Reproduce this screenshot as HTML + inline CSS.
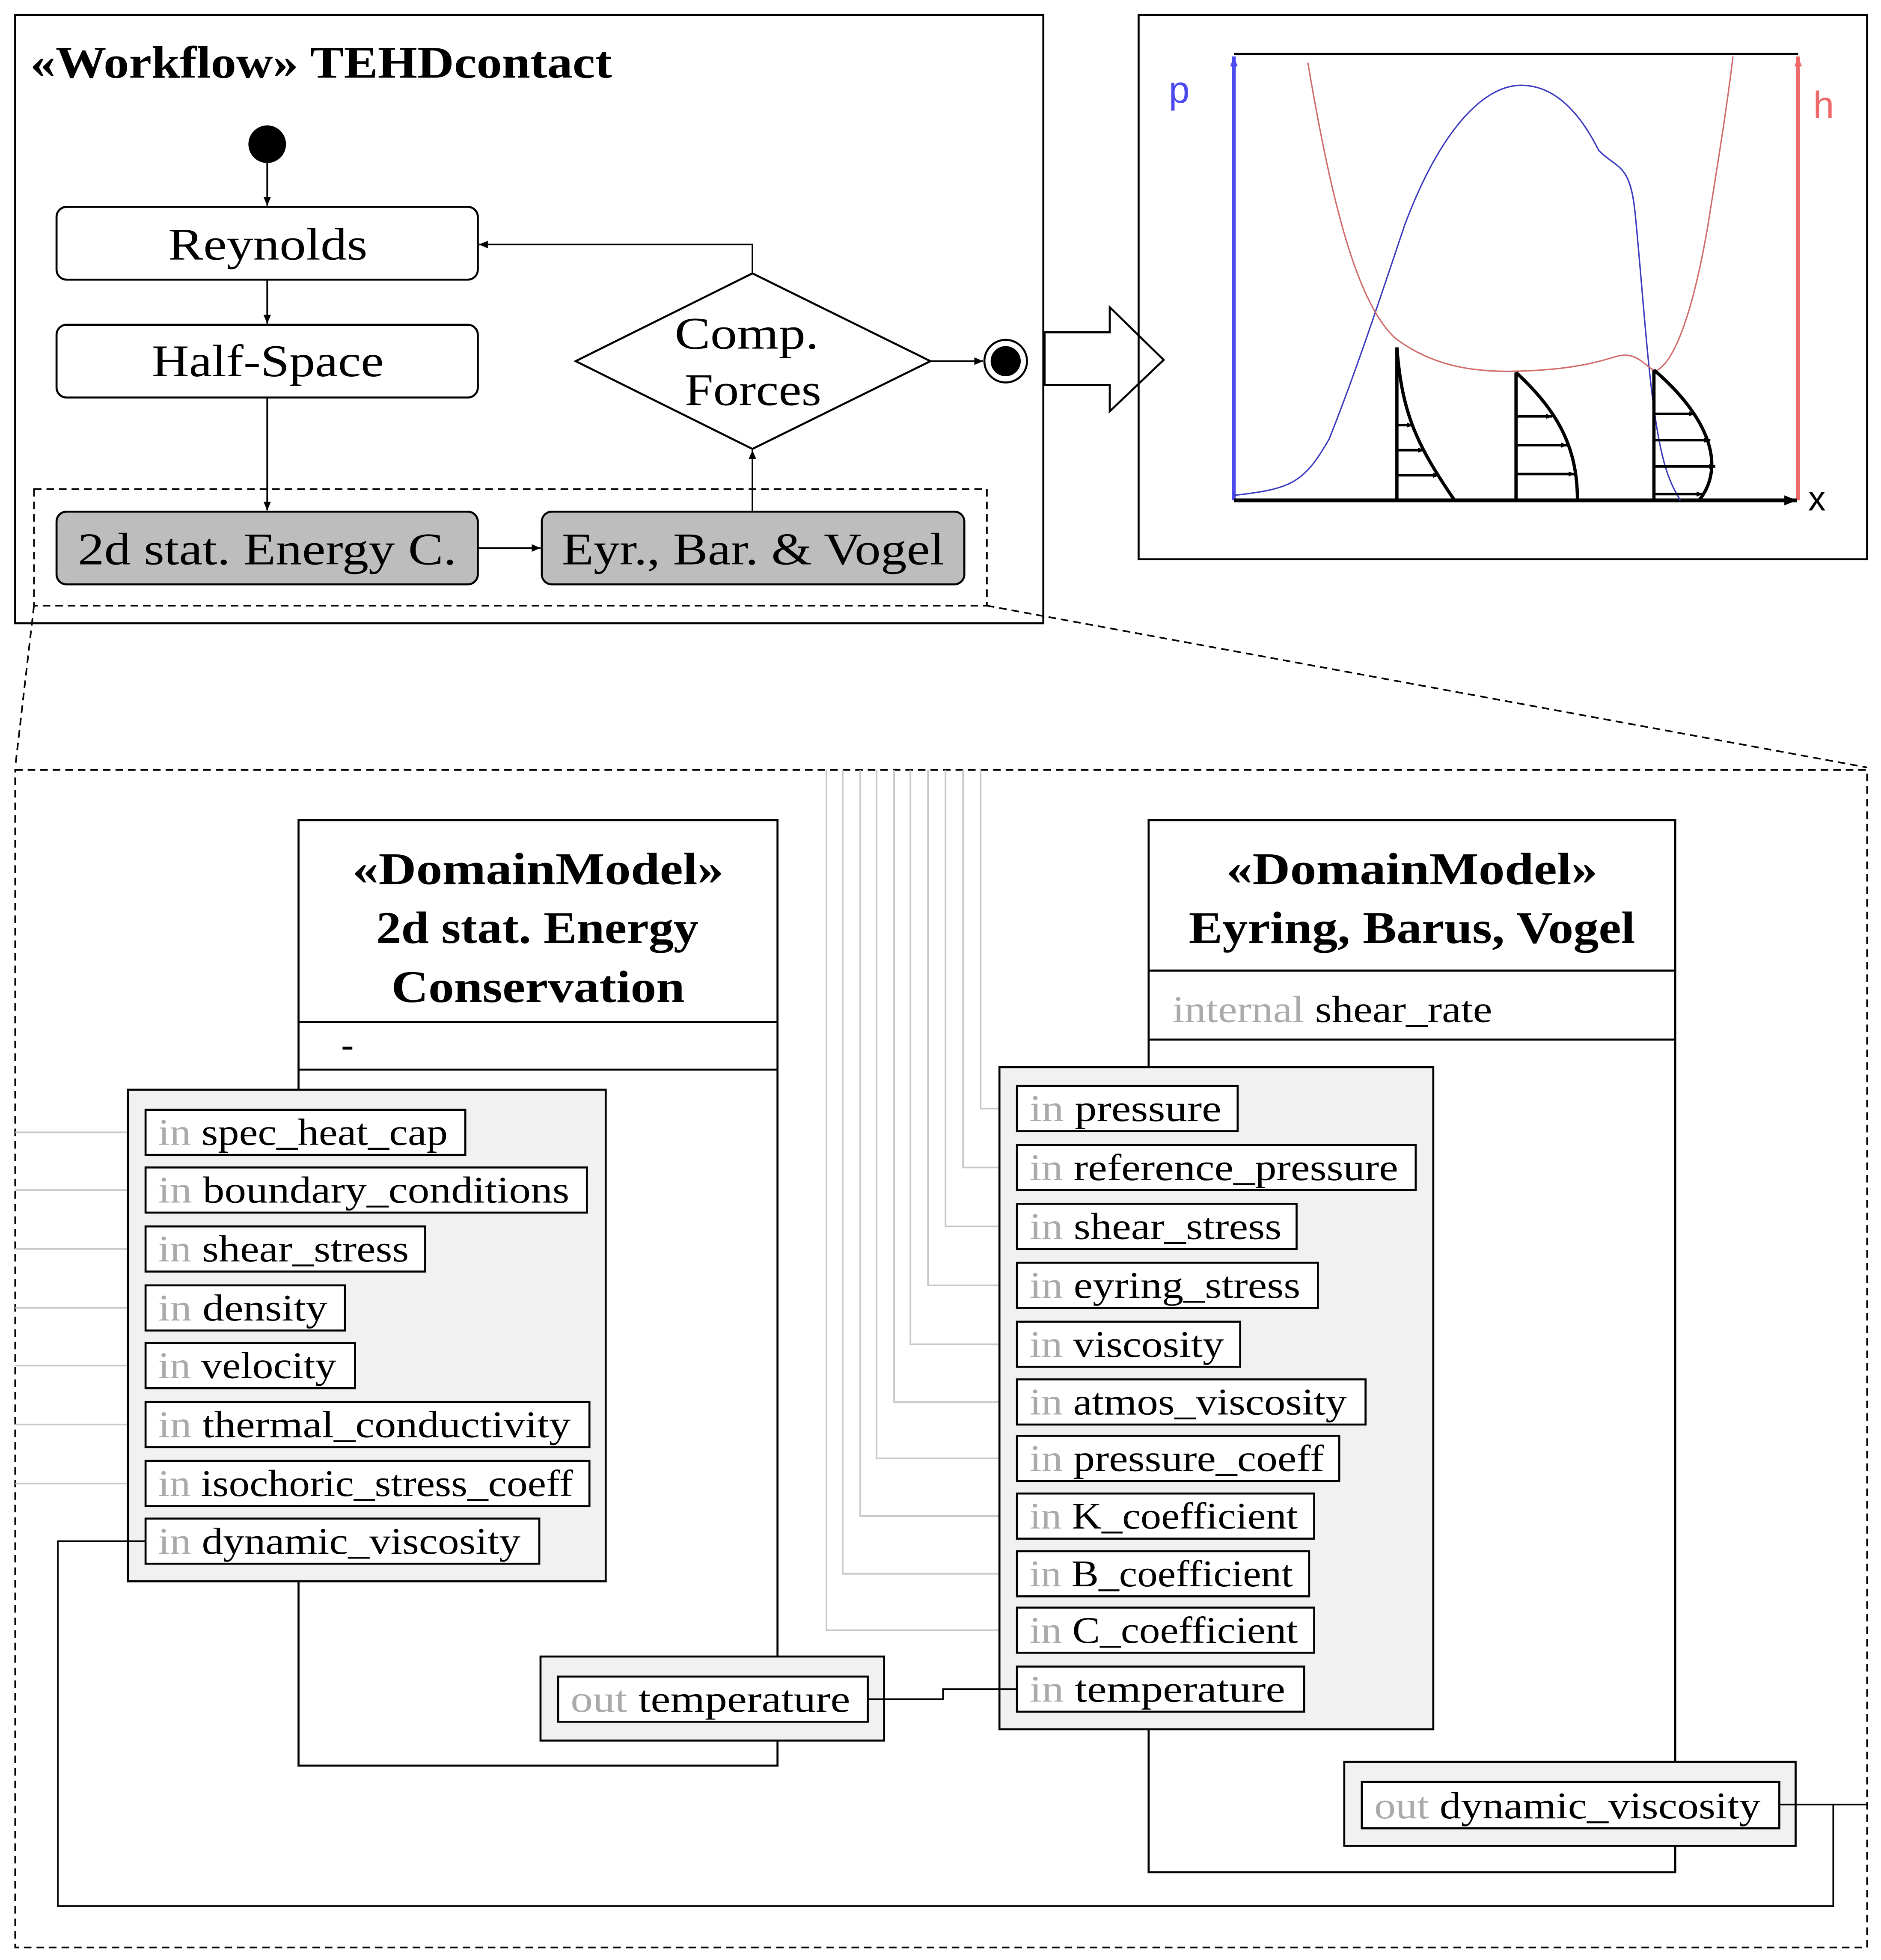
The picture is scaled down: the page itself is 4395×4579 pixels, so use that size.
<!DOCTYPE html>
<html><head><meta charset="utf-8"><style>
html,body{margin:0;padding:0;background:#fff}
svg{display:block}
.s{font-family:"Liberation Serif",serif}
.sans{font-family:"Liberation Sans",sans-serif}
</style></head><body>
<svg width="4395" height="4579" viewBox="0 0 1500 1563" xmlns="http://www.w3.org/2000/svg">
<defs>
<marker id="a" markerWidth="8" markerHeight="8" refX="7" refY="4" orient="auto" markerUnits="userSpaceOnUse"><path d="M0,1 L7,4 L0,7 z" fill="#000"/></marker>
<marker id="ab" markerWidth="10" markerHeight="10" refX="8" refY="5" orient="auto" markerUnits="userSpaceOnUse"><path d="M0,2 L8,5 L0,8 z" fill="#4a4aee"/></marker>
<marker id="ar" markerWidth="10" markerHeight="10" refX="8" refY="5" orient="auto" markerUnits="userSpaceOnUse"><path d="M0,2 L8,5 L0,8 z" fill="#ee6a6a"/></marker>
<marker id="ak" markerWidth="12" markerHeight="10" refX="10" refY="5" orient="auto" markerUnits="userSpaceOnUse"><path d="M0,1 L10,5 L0,9 z" fill="#000"/></marker>
<marker id="sm" markerWidth="6" markerHeight="6" refX="5" refY="3" orient="auto" markerUnits="userSpaceOnUse"><path d="M0,1 L5,3 L0,5 z" fill="#000"/></marker>
</defs>
<rect width="1500" height="1563" fill="#fff"/>
<rect x="12" y="12" width="820" height="485" fill="none" stroke="#000" stroke-width="1.6"/>
<text x="24" y="62" class="s" font-size="36" font-weight="bold" textLength="464" lengthAdjust="spacingAndGlyphs">«Workflow» TEHDcontact</text>
<circle cx="213" cy="115" r="15" fill="#000"/>
<g fill="none" stroke="#000" stroke-width="1.3">
<line x1="213" y1="130" x2="213" y2="164" marker-end="url(#a)"/>
<line x1="213" y1="223" x2="213" y2="258" marker-end="url(#a)"/>
<line x1="213" y1="317" x2="213" y2="407" marker-end="url(#a)"/>
<line x1="381" y1="437" x2="431" y2="437" marker-end="url(#a)"/>
<line x1="600" y1="408" x2="600" y2="359" marker-end="url(#a)"/>
<polyline points="600,218 600,195 382,195" marker-end="url(#a)"/>
<line x1="742" y1="288" x2="784" y2="288" marker-end="url(#a)"/>
</g>
<rect x="45" y="165" width="336" height="58" rx="8" fill="#fff" stroke="#000" stroke-width="1.6"/>
<text x="134" y="207" class="s" font-size="36" textLength="159" lengthAdjust="spacingAndGlyphs">Reynolds</text>
<rect x="45" y="259" width="336" height="58" rx="8" fill="#fff" stroke="#000" stroke-width="1.6"/>
<text x="121" y="300" class="s" font-size="36" textLength="185" lengthAdjust="spacingAndGlyphs">Half-Space</text>
<rect x="27" y="390" width="760" height="93" fill="none" stroke="#000" stroke-width="1.3" stroke-dasharray="6,4"/>
<rect x="45" y="408" width="336" height="58" rx="8" fill="#bdbdbd" stroke="#000" stroke-width="1.6"/>
<text x="62" y="450" class="s" font-size="36" textLength="302" lengthAdjust="spacingAndGlyphs">2d stat. Energy C.</text>
<rect x="432" y="408" width="337" height="58" rx="8" fill="#bdbdbd" stroke="#000" stroke-width="1.6"/>
<text x="448" y="450" class="s" font-size="36" textLength="305" lengthAdjust="spacingAndGlyphs">Eyr., Bar. &amp; Vogel</text>
<polygon points="600,218 742,288 600,358 459,288" fill="#fff" stroke="#000" stroke-width="1.6"/>
<text x="538" y="278" class="s" font-size="36" textLength="115" lengthAdjust="spacingAndGlyphs">Comp.</text>
<text x="546" y="323" class="s" font-size="36" textLength="109" lengthAdjust="spacingAndGlyphs">Forces</text>
<circle cx="802" cy="288" r="17" fill="#fff" stroke="#000" stroke-width="1.6"/>
<circle cx="802" cy="288" r="12" fill="#000"/>
<polygon points="833,265 885,265 885,245 928,287 885,328 885,307 833,307" fill="#fff" stroke="#000" stroke-width="1.6"/>
<rect x="908" y="12" width="581" height="434" fill="none" stroke="#000" stroke-width="1.6"/>
<line x1="984" y1="43" x2="1434" y2="43" stroke="#000" stroke-width="1.6"/>
<line x1="984" y1="399" x2="984" y2="45" stroke="#4a4aee" stroke-width="3" marker-end="url(#ab)"/>
<line x1="1434" y1="399" x2="1434" y2="45" stroke="#ee6a6a" stroke-width="3" marker-end="url(#ar)"/>
<line x1="984" y1="399" x2="1433" y2="399" stroke="#000" stroke-width="3" marker-end="url(#ak)"/>
<text x="932" y="82" class="sans" font-size="30" fill="#4a4aee">p</text>
<text x="1446" y="94" class="sans" font-size="30" fill="#ee6a6a">h</text>
<text x="1442" y="407" class="sans" font-size="28">x</text>
<path d="M984,395 C1030,390 1040,385 1060,350 C1080,300 1100,240 1120,180 C1150,100 1185,68 1213,68 C1240,68 1260,90 1275,120 C1290,135 1300,130 1304,170 C1310,230 1314,300 1322,345 C1328,380 1335,390 1340,399" fill="none" stroke="#3a3ac0" stroke-width="1.1"/>
<path d="M1043,50 C1060,150 1080,240 1113,270 C1140,290 1170,297 1209,296 C1250,295 1270,290 1290,284 C1305,280 1312,292 1320,296 C1335,290 1350,250 1362,180 C1370,130 1378,80 1382,45" fill="none" stroke="#d06a6a" stroke-width="1.1"/>
<g fill="none" stroke="#000" stroke-width="2.6">
<line x1="1114" y1="277" x2="1114" y2="399"/>
<path d="M1114,277 C1118,330 1130,355 1160,399"/>
<line x1="1209" y1="297" x2="1209" y2="399"/>
<path d="M1209,297 C1245,330 1258,360 1258,399"/>
<line x1="1319" y1="295" x2="1319" y2="399"/>
<path d="M1319,295 C1360,330 1378,370 1355,399"/>
</g>
<g stroke="#000" stroke-width="2" marker-end="url(#sm)">
<line x1="1114" y1="339" x2="1127" y2="339"/><line x1="1114" y1="359" x2="1136" y2="359"/><line x1="1114" y1="379" x2="1148" y2="379"/>
<line x1="1209" y1="332" x2="1238" y2="332"/><line x1="1209" y1="355" x2="1250" y2="355"/><line x1="1209" y1="378" x2="1256" y2="378"/>
<line x1="1319" y1="330" x2="1352" y2="330"/><line x1="1319" y1="351" x2="1364" y2="351"/><line x1="1319" y1="372" x2="1368" y2="372"/><line x1="1319" y1="394" x2="1358" y2="394"/>
</g>
<g fill="none" stroke="#000" stroke-width="1.3" stroke-dasharray="6,4">
<line x1="27" y1="483" x2="12" y2="612"/>
<line x1="787" y1="483" x2="1489" y2="612"/>
<rect x="12" y="614" width="1477" height="939"/>
</g>
<g fill="none" stroke="#c8c8c8" stroke-width="1.3">
<polyline points="782,614 782,884 811,884"/>
<polyline points="768,614 768,931 811,931"/>
<polyline points="754,614 754,978 811,978"/>
<polyline points="740,614 740,1025 811,1025"/>
<polyline points="726,614 726,1072 811,1072"/>
<polyline points="713,614 713,1118 811,1118"/>
<polyline points="699,614 699,1163 811,1163"/>
<polyline points="686,614 686,1209 811,1209"/>
<polyline points="672,614 672,1255 811,1255"/>
<polyline points="659,614 659,1300 811,1300"/>
<line x1="12" y1="903" x2="116" y2="903"/>
<line x1="12" y1="949" x2="116" y2="949"/>
<line x1="12" y1="996" x2="116" y2="996"/>
<line x1="12" y1="1043" x2="116" y2="1043"/>
<line x1="12" y1="1089" x2="116" y2="1089"/>
<line x1="12" y1="1136" x2="116" y2="1136"/>
<line x1="12" y1="1183" x2="116" y2="1183"/>
</g>
<rect x="238" y="654" width="382" height="754" fill="#fff" stroke="#000" stroke-width="1.6"/>
<line x1="238" y1="815" x2="620" y2="815" stroke="#000" stroke-width="1.6"/>
<line x1="238" y1="853" x2="620" y2="853" stroke="#000" stroke-width="1.6"/>
<g class="s" font-size="36" font-weight="bold">
<text x="281" y="705" textLength="296" lengthAdjust="spacingAndGlyphs">«DomainModel»</text>
<text x="300" y="752" textLength="257" lengthAdjust="spacingAndGlyphs">2d stat. Energy</text>
<text x="312" y="799" textLength="234" lengthAdjust="spacingAndGlyphs">Conservation</text>
</g>
<text x="272" y="843" class="s" font-size="30">-</text>
<rect x="102" y="869" width="381" height="392" fill="#f1f1f1" stroke="#000" stroke-width="1.6"/>
<g fill="#fff" stroke="#000" stroke-width="1.6">
<rect x="116" y="885" width="255" height="36"/>
<rect x="116" y="931" width="352" height="36"/>
<rect x="116" y="978" width="223" height="36"/>
<rect x="116" y="1025" width="159" height="36"/>
<rect x="116" y="1071" width="167" height="36"/>
<rect x="116" y="1118" width="354" height="36"/>
<rect x="116" y="1165" width="354" height="36"/>
<rect x="116" y="1211" width="314" height="36"/>
</g>
<g class="s" font-size="30">
<text x="126" y="913" textLength="231" lengthAdjust="spacingAndGlyphs"><tspan fill="#aaa">in</tspan> spec_heat_cap</text>
<text x="126" y="959" textLength="328" lengthAdjust="spacingAndGlyphs"><tspan fill="#aaa">in</tspan> boundary_conditions</text>
<text x="126" y="1006" textLength="200" lengthAdjust="spacingAndGlyphs"><tspan fill="#aaa">in</tspan> shear_stress</text>
<text x="126" y="1053" textLength="135" lengthAdjust="spacingAndGlyphs"><tspan fill="#aaa">in</tspan> density</text>
<text x="126" y="1099" textLength="142" lengthAdjust="spacingAndGlyphs"><tspan fill="#aaa">in</tspan> velocity</text>
<text x="126" y="1146" textLength="329" lengthAdjust="spacingAndGlyphs"><tspan fill="#aaa">in</tspan> thermal_conductivity</text>
<text x="126" y="1193" textLength="331" lengthAdjust="spacingAndGlyphs"><tspan fill="#aaa">in</tspan> isochoric_stress_coeff</text>
<text x="126" y="1239" textLength="289" lengthAdjust="spacingAndGlyphs"><tspan fill="#aaa">in</tspan> dynamic_viscosity</text>
</g>
<rect x="431" y="1321" width="274" height="67" fill="#f1f1f1" stroke="#000" stroke-width="1.6"/>
<rect x="445" y="1337" width="247" height="36" fill="#fff" stroke="#000" stroke-width="1.6"/>
<text x="455" y="1365" class="s" font-size="30" textLength="223" lengthAdjust="spacingAndGlyphs"><tspan fill="#aaa">out</tspan> temperature</text>
<rect x="916" y="654" width="420" height="839" fill="#fff" stroke="#000" stroke-width="1.6"/>
<line x1="916" y1="774" x2="1336" y2="774" stroke="#000" stroke-width="1.6"/>
<line x1="916" y1="829" x2="1336" y2="829" stroke="#000" stroke-width="1.6"/>
<g class="s" font-size="36" font-weight="bold">
<text x="978" y="705" textLength="296" lengthAdjust="spacingAndGlyphs">«DomainModel»</text>
<text x="948" y="752" textLength="356" lengthAdjust="spacingAndGlyphs">Eyring, Barus, Vogel</text>
</g>
<text x="935" y="815" class="s" font-size="30" textLength="255" lengthAdjust="spacingAndGlyphs"><tspan fill="#aaa">internal</tspan> shear_rate</text>
<rect x="797" y="851" width="346" height="528" fill="#f1f1f1" stroke="#000" stroke-width="1.6"/>
<g fill="#fff" stroke="#000" stroke-width="1.6">
<rect x="811" y="866" width="176" height="36"/>
<rect x="811" y="913" width="318" height="36"/>
<rect x="811" y="960" width="223" height="36"/>
<rect x="811" y="1007" width="240" height="36"/>
<rect x="811" y="1054" width="178" height="36"/>
<rect x="811" y="1100" width="278" height="36"/>
<rect x="811" y="1145" width="257" height="36"/>
<rect x="811" y="1191" width="237" height="36"/>
<rect x="811" y="1237" width="233" height="36"/>
<rect x="811" y="1282" width="237" height="36"/>
<rect x="811" y="1329" width="229" height="36"/>
</g>
<g class="s" font-size="30">
<text x="821" y="894" textLength="153" lengthAdjust="spacingAndGlyphs"><tspan fill="#aaa">in</tspan> pressure</text>
<text x="821" y="941" textLength="294" lengthAdjust="spacingAndGlyphs"><tspan fill="#aaa">in</tspan> reference_pressure</text>
<text x="821" y="988" textLength="201" lengthAdjust="spacingAndGlyphs"><tspan fill="#aaa">in</tspan> shear_stress</text>
<text x="821" y="1035" textLength="216" lengthAdjust="spacingAndGlyphs"><tspan fill="#aaa">in</tspan> eyring_stress</text>
<text x="821" y="1082" textLength="155" lengthAdjust="spacingAndGlyphs"><tspan fill="#aaa">in</tspan> viscosity</text>
<text x="821" y="1128" textLength="253" lengthAdjust="spacingAndGlyphs"><tspan fill="#aaa">in</tspan> atmos_viscosity</text>
<text x="821" y="1173" textLength="235" lengthAdjust="spacingAndGlyphs"><tspan fill="#aaa">in</tspan> pressure_coeff</text>
<text x="821" y="1219" textLength="214" lengthAdjust="spacingAndGlyphs"><tspan fill="#aaa">in</tspan> K_coefficient</text>
<text x="821" y="1265" textLength="210" lengthAdjust="spacingAndGlyphs"><tspan fill="#aaa">in</tspan> B_coefficient</text>
<text x="821" y="1310" textLength="214" lengthAdjust="spacingAndGlyphs"><tspan fill="#aaa">in</tspan> C_coefficient</text>
<text x="821" y="1357" textLength="204" lengthAdjust="spacingAndGlyphs"><tspan fill="#aaa">in</tspan> temperature</text>
</g>
<rect x="1072" y="1405" width="360" height="67" fill="#f1f1f1" stroke="#000" stroke-width="1.6"/>
<rect x="1086" y="1421" width="333" height="37" fill="#fff" stroke="#000" stroke-width="1.6"/>
<text x="1096" y="1450" class="s" font-size="30" textLength="308" lengthAdjust="spacingAndGlyphs"><tspan fill="#aaa">out</tspan> dynamic_viscosity</text>
<g fill="none" stroke="#000" stroke-width="1.3">
<polyline points="692,1355 752,1355 752,1347 811,1347"/>
<polyline points="116,1229 46,1229 46,1520 1462,1520 1462,1439 1419,1439"/>
<line x1="1462" y1="1439" x2="1489" y2="1439"/>
</g>
</svg>
</body></html>
